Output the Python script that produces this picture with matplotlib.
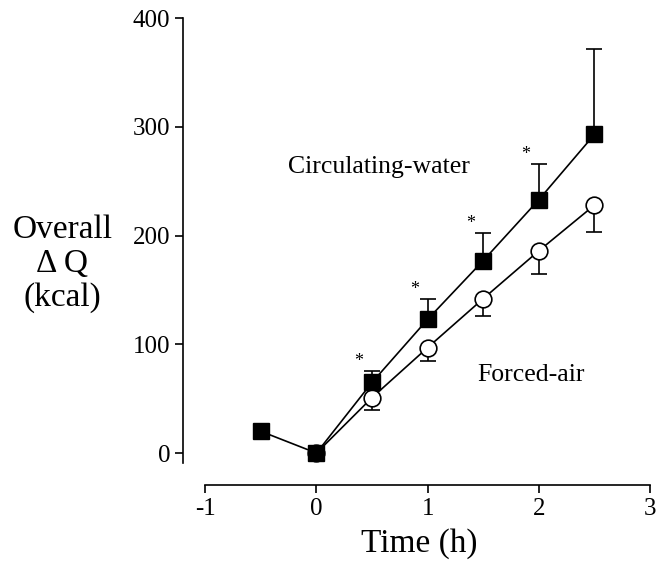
import numpy as np
import matplotlib
matplotlib.use('Agg')
import matplotlib.pyplot as plt

plt.rcParams['font.family'] = ['Liberation Serif', 'DejaVu Serif']
plt.rcParams['axes.unicode_minus'] = False

# circulating-water (filled squares), upper SD only
cw_time = [-0.5, 0, 0.5, 1.0, 1.5, 2.0, 2.5]
cw_q    = [20, 0, 65, 123, 177, 233, 293]
cw_err  = [0, 0, 10, 19, 25, 33, 79]

# forced-air (open circles), lower SD only
fa_time = [0, 0.5, 1.0, 1.5, 2.0, 2.5]
fa_q    = [0, 51, 97, 142, 186, 228]
fa_err  = [0, 11, 12, 16, 21, 25]

# significance marks
star_time = [0.5, 1.0, 1.5, 2.0]

xticks = [-1, 0, 1, 2, 3]
yticks = [0, 100, 200, 300, 400]

fig = plt.figure(figsize=(6.64, 5.74), dpi=100)
ax = fig.add_axes([0.2756, 0.155, 0.7118, 0.823])

# error bars only where there is an SD
fa_idx = [i for i, e in enumerate(fa_err) if e > 0]
cw_idx = [i for i, e in enumerate(cw_err) if e > 0]
ax.errorbar([fa_time[i] for i in fa_idx], [fa_q[i] for i in fa_idx],
            yerr=[[fa_err[i] for i in fa_idx], [0] * len(fa_idx)], fmt='none',
            ecolor='black', elinewidth=1.2, capsize=6, capthick=1.2, zorder=1)
ax.errorbar([cw_time[i] for i in cw_idx], [cw_q[i] for i in cw_idx],
            yerr=[[0] * len(cw_idx), [cw_err[i] for i in cw_idx]], fmt='none',
            ecolor='black', elinewidth=1.2, capsize=6, capthick=1.2, zorder=1)

ax.plot(fa_time, fa_q, '-o', color='black', mfc='white', mec='black',
        ms=12, mew=1.2, lw=1.2, zorder=2)
ax.plot(cw_time, cw_q, '-s', color='black', mfc='black', mec='black',
        ms=11.5, lw=1.2, zorder=3)

for t in star_time:
    i = cw_time.index(t)
    ax.text(t - 0.117, cw_q[i] + cw_err[i] + 1, '*', ha='center', va='bottom', fontsize=13)

ax.text(-0.254, 263, 'Circulating-water', ha='left', va='center', fontsize=18.5)
ax.text(1.445, 72, 'Forced-air', ha='left', va='center', fontsize=18.5)

ax.set_xlim(-1.2, 3.05)
ax.set_ylim(-29.4, 405)
ax.set_xticks(xticks)
ax.set_yticks(yticks)
ax.tick_params(labelsize=18, width=1.2, length=6, direction='out', pad=3)

for s in ['top', 'right']:
    ax.spines[s].set_visible(False)
ax.spines['left'].set_bounds(-9, 400)
ax.spines['bottom'].set_bounds(-1, 3)
ax.spines['left'].set_linewidth(1.2)
ax.spines['bottom'].set_linewidth(1.2)

ax.set_xlabel('Time (h)', fontsize=24, labelpad=6)
fig.text(0.094, 0.54, 'Overall\n\u0394 Q\n(kcal)', ha='center', va='center',
         fontsize=24, linespacing=1.15)

fig.savefig('out.png', dpi=100)
